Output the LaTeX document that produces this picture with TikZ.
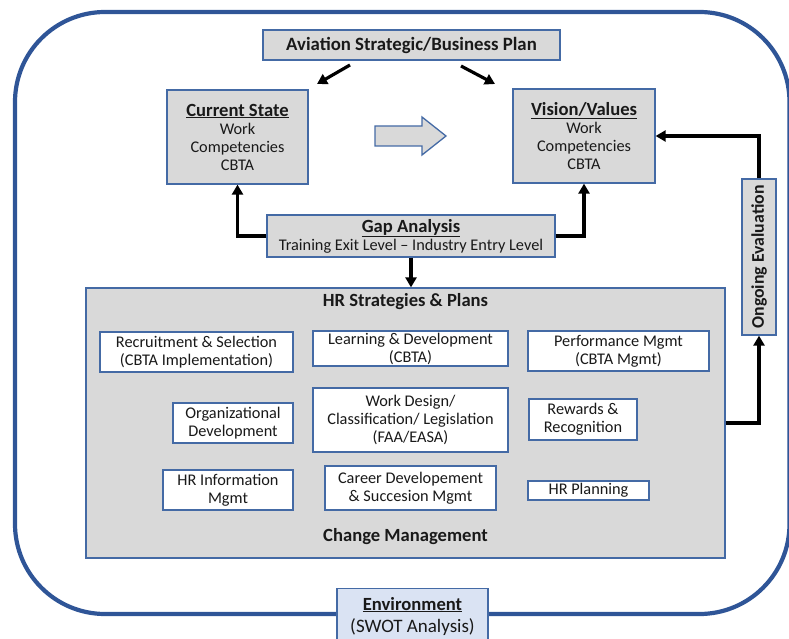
\documentclass[tikz,border=0pt]{standalone}
\usepackage{fontspec}
\setmainfont{Carlito}
\usetikzlibrary{arrows.meta}
\definecolor{frameblue}{RGB}{47,85,151}
\definecolor{boxedge}{RGB}{68,106,165}
\definecolor{boxgray}{RGB}{217,217,217}
\definecolor{envfill}{RGB}{218,227,243}
\definecolor{txt}{RGB}{25,25,25}
\newcommand{\bt}[1]{{\fontsize{18.6}{18}\selectfont\bfseries #1}}
\begin{document}
\begin{tikzpicture}[x=1pt,y=-1pt,
  base/.style={draw=boxedge,line width=1.3pt,inner sep=0pt,align=center,text=txt,
    font=\fontsize{16.3}{18}\selectfont},
  graybox/.style={base,fill=boxgray},
  whitebox/.style={base,fill=white},
  conn/.style={line width=3.2pt,-{Triangle[length=10pt,width=11pt]}},
  ttl/.style={font=\fontsize{18.6}{18}\selectfont\bfseries,text=txt}]
\useasboundingbox (0,0) rectangle (789,639);
% outer frame
\draw[frameblue,line width=4.2pt,rounded corners=90pt] (15,12) rectangle (789.5,614);
% top plan
\node[graybox,minimum width=297pt,minimum height=30pt,font=\fontsize{18.8}{18}\selectfont\bfseries] (plan) at (411.5,45) {Aviation Strategic/Business Plan};
\node[graybox,minimum width=141pt,minimum height=94pt] (cur) at (237.5,137)
  {\bt{\underline{Current State}}\\Work\\Competencies\\CBTA};
\node[graybox,minimum width=142pt,minimum height=94pt] (vis) at (584,136)
  {\bt{\underline{Vision/Values}}\\Work\\Competencies\\CBTA};
% block arrow
\draw[draw=boxedge,fill=boxgray,line width=1.3pt]
  (375,126) -- (422,126) -- (422,117) -- (446,136) -- (422,155) -- (422,146) -- (375,146) -- cycle;
\node[graybox,minimum width=288pt,minimum height=42pt] (gap) at (411,236)
  {\bt{\underline{Gap Analysis}}\\Training Exit Level – Industry Entry Level};
% HR box
\node[graybox,minimum width=639pt,minimum height=270pt] (hr) at (405.5,423) {};
\node[ttl] (hrt) at (405.5,302) {HR Strategies \& Plans};
\node[ttl] (cm) at (405.5,537) {Change Management};
\node[whitebox,minimum width=193pt,minimum height=40pt] (rec) at (196.5,352) {Recruitment \& Selection\\(CBTA Implementation)};
\node[whitebox,minimum width=195pt,minimum height=35pt] (lrn) at (410.5,348.5) {Learning \& Development\\(CBTA)};
\node[whitebox,minimum width=181pt,minimum height=40pt] (perf) at (618.5,351) {Performance Mgmt\\(CBTA Mgmt)};
\node[whitebox,minimum width=120pt,minimum height=40pt] (org) at (233,423) {Organizational\\Development};
\node[whitebox,minimum width=195pt,minimum height=64pt] (wd) at (410.5,420) {Work Design/\\Classification/ Legislation\\(FAA/EASA)};
\node[whitebox,minimum width=108pt,minimum height=41pt] (rew) at (583,419.5) {Rewards \&\\Recognition};
\node[whitebox,minimum width=130pt,minimum height=40pt] (hri) at (228,490) {HR Information\\Mgmt};
\node[whitebox,minimum width=171pt,minimum height=44pt] (car) at (410.5,488) {Career Developement\\\& Succesion Mgmt};
\node[whitebox,minimum width=121pt,minimum height=19pt] (hrp) at (588.5,490.5) {HR Planning};
% ongoing evaluation
\node[graybox,minimum width=156pt,minimum height=34pt,rotate=90,font=\fontsize{17.8}{18}\selectfont\bfseries] (ong) at (759,257) {Ongoing Evaluation};
% environment
\node[base,fill=envfill,minimum width=151pt,minimum height=58pt,anchor=north] (env) at (412.5,588) {};
\node[text=txt,align=center,font=\fontsize{19}{22}\selectfont] (envt) at (412.5,616) {\bt{\underline{Environment}}\\(SWOT Analysis)};
% connectors
\coordinate (p1) at (350,65); \coordinate (p2) at (317,84);
\coordinate (p3) at (461,66); \coordinate (p4) at (495,84);
\draw[conn] (p1) -- (p2);
\draw[conn] (p3) -- (p4);
\draw[conn] (gap.west) -| (cur.south);
\draw[conn] (gap.east) -| (vis.south);
\draw[conn] (gap.south) -- (gap.south |- hr.north);
\draw[conn] (hr.east) -| (ong.west);
\draw[conn] (ong.east) |- (vis.east);
\end{tikzpicture}
\end{document}
